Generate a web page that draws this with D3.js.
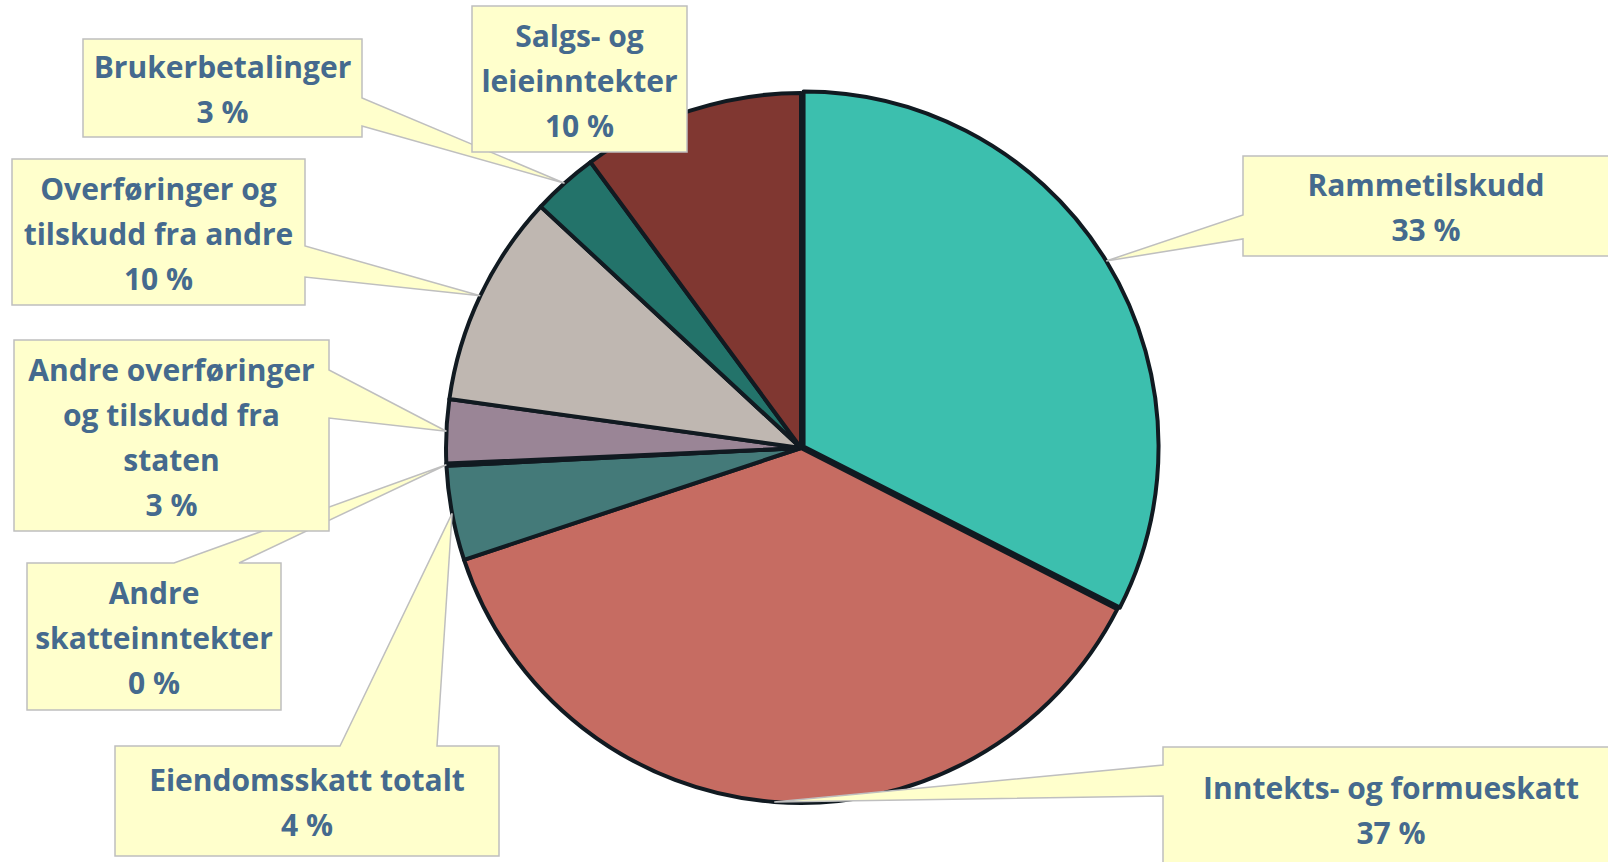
<!DOCTYPE html>
<html>
<head>
<meta charset="utf-8">
<script src="https://cdnjs.cloudflare.com/ajax/libs/d3/7.8.5/d3.min.js"></script>
<style>
  html, body { margin: 0; padding: 0; background: #ffffff; }
  svg { display: block; }
</style>
</head>
<body>
<div id="chart"></div>
<script>
var width = 1608;
var height = 862;

// Slices, clockwise from 12 o'clock
var labelLines = [
  ["Rammetilskudd"],
  ["Inntekts- og formueskatt"],
  ["Eiendomsskatt totalt"],
  ["Andre", "skatteinntekter"],
  ["Andre overføringer", "og tilskudd fra", "staten"],
  ["Overføringer og", "tilskudd fra andre"],
  ["Brukerbetalinger"],
  ["Salgs- og", "leieinntekter"]
];
var categories = labelLines.map(function (l) { return l.join(" "); });
var shares = [32.5, 37.4, 4.3, 0.1, 2.9, 9.7, 3.0, 10.1];
var colors = ["#3cbfae", "#c66c62", "#447a79", "#5b7d9c", "#9a8596", "#bfb7b1", "#23736a", "#803731"];

// label callout boxes: x, y, w, h, pointer side and where the pointer leaves the box
var callouts = [
  { x: 1243, y: 156, w: 366, h: 100, side: "left",  b: [215, 239] },
  { x: 1163, y: 747, w: 456, h: 124, side: "left",  b: [765, 796] },
  { x: 115,  y: 746, w: 384, h: 110, side: "top",   b: [340, 437] },
  { x: 27,   y: 563, w: 254, h: 147, side: "top",   b: [174, 239] },
  { x: 14,   y: 340, w: 315, h: 191, side: "right", b: [370, 418] },
  { x: 12,   y: 159, w: 293, h: 146, side: "right", b: [246, 277] },
  { x: 83,   y: 39,  w: 279, h: 98,  side: "right", b: [98, 126] },
  { x: 472,  y: 6,   w: 215, h: 146, side: null,    b: null }
];

var cx = 801, cy = 448, radius = 355;
var explode = [3, 0, 0, 0, 0, 0, 0, 0];

var svg = d3
  .select("#chart")
  .append("svg")
  .attr("width", width)
  .attr("height", height);

svg.append("rect").attr("width", width).attr("height", height).attr("fill", "#ffffff");

var pie = d3.pie().sort(null).value(function (d) { return d; });
var arcs = pie(shares);

var arc = d3.arc().innerRadius(0).outerRadius(radius);
var rim = d3.arc().innerRadius(radius).outerRadius(radius);

function offset(d, i) {
  var a = (d.startAngle + d.endAngle) / 2;
  return [Math.sin(a) * explode[i], -Math.cos(a) * explode[i]];
}

var g = svg.append("g").attr("transform", "translate(" + cx + "," + cy + ")");

g.selectAll(".slice")
  .data(arcs)
  .enter()
  .append("path")
  .attr("class", "slice")
  .attr("d", arc)
  .attr("transform", function (d, i) {
    var o = offset(d, i);
    return "translate(" + o[0] + "," + o[1] + ")";
  })
  .attr("fill", function (d, i) { return colors[i]; })
  .attr("stroke", "#111a21")
  .attr("stroke-width", 4)
  .attr("stroke-linejoin", "round");

// callout shape = box + wedge pointing at the slice rim
function calloutPath(c, tip) {
  var x0 = c.x, y0 = c.y, x1 = c.x + c.w, y1 = c.y + c.h;
  var pts;
  if (c.side === "top") {
    pts = [[x0, y0], [c.b[0], y0], tip, [c.b[1], y0], [x1, y0], [x1, y1], [x0, y1]];
  } else if (c.side === "right") {
    pts = [[x0, y0], [x1, y0], [x1, c.b[0]], tip, [x1, c.b[1]], [x1, y1], [x0, y1]];
  } else if (c.side === "left") {
    pts = [[x0, y0], [x1, y0], [x1, y1], [x0, y1], [x0, c.b[1]], tip, [x0, c.b[0]]];
  } else {
    pts = [[x0, y0], [x1, y0], [x1, y1], [x0, y1]];
  }
  return "M" + pts.map(function (p) { return p[0] + "," + p[1]; }).join("L") + "Z";
}

var labels = svg.selectAll(".callout")
  .data(arcs)
  .enter()
  .append("g")
  .attr("class", "callout");

labels.append("path")
  .attr("d", function (d, i) {
    var c = rim.centroid(d);
    var o = offset(d, i);
    return calloutPath(callouts[i], [cx + c[0] + o[0], cy + c[1] + o[1]]);
  })
  .attr("fill", "#ffffcc")
  .attr("stroke", "#bfbfbf")
  .attr("stroke-width", 1.5);

var lineHeight = 45;

labels.append("text")
  .attr("text-anchor", "middle")
  .style("font-family", "'Open Sans', sans-serif")
  .style("font-weight", "bold")
  .style("font-size", "30px")
  .attr("fill", "#456a8e")
  .each(function (d, i) {
    var c = callouts[i];
    var lines = labelLines[i].concat([Math.round(d.data) + " %"]);
    var top = c.y + c.h / 2 - (lines.length - 1) * lineHeight / 2;
    var t = d3.select(this);
    lines.forEach(function (s, k) {
      t.append("tspan")
        .attr("x", c.x + c.w / 2)
        .attr("y", top + k * lineHeight)
        .attr("dy", "0.42em")
        .text(s);
    });
  });
</script>
</body>
</html>
